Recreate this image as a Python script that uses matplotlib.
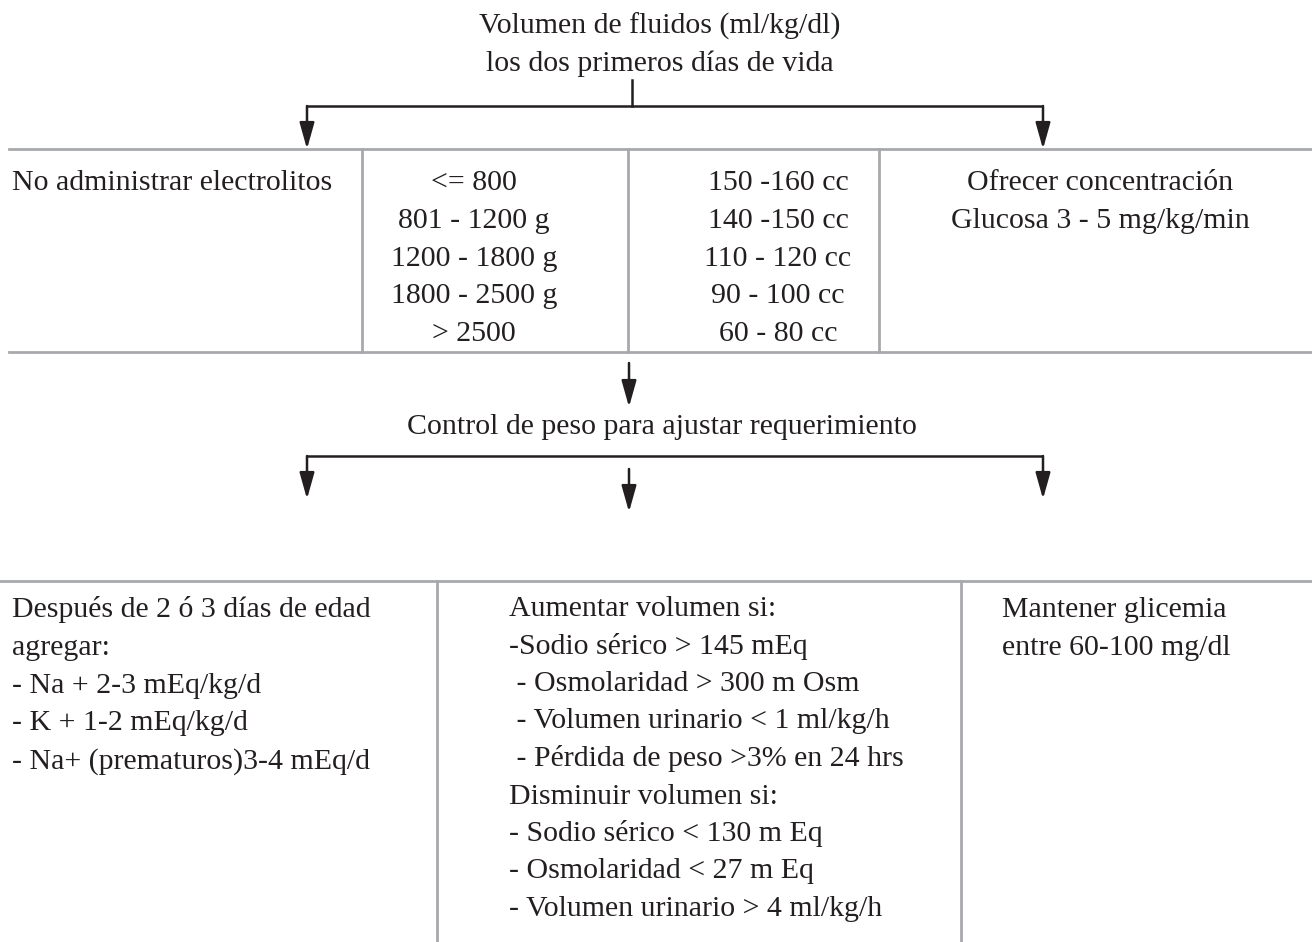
import matplotlib.pyplot as plt
from matplotlib.patches import FancyArrowPatch

##############################################################################
# Texts of the flowchart
##############################################################################

title_lines = ["Volumen de fluidos (ml/kg/dl)", "los dos primeros días de vida"]

no_electrolytes = ["No administrar electrolitos"]
weight_ranges = ["<= 800", "801 - 1200 g", "1200 - 1800 g", "1800 - 2500 g", "> 2500"]
volumes = ["150 -160 cc", "140 -150 cc", "110 - 120 cc", "90 - 100 cc", "60 - 80 cc"]
glucose = ["Ofrecer concentración", "Glucosa 3 - 5 mg/kg/min"]

control_text = "Control de peso para ajustar requerimiento"

after_days = ["Después de 2 ó 3 días de edad",
              "agregar:",
              "- Na + 2-3 mEq/kg/d",
              "- K + 1-2 mEq/kg/d",
              "- Na+ (prematuros)3-4 mEq/d"]
volume_rules = ["Aumentar volumen si:",
                "-Sodio sérico > 145 mEq",
                " - Osmolaridad > 300 m Osm",
                " - Volumen urinario < 1 ml/kg/h",
                " - Pérdida de peso >3% en 24 hrs",
                "Disminuir volumen si:",
                "- Sodio sérico < 130 m Eq",
                "- Osmolaridad < 27 m Eq",
                "- Volumen urinario > 4 ml/kg/h"]
glycemia = ["Mantener glicemia", "entre 60-100 mg/dl"]

##############################################################################
# Figure (pixel coordinates, y downwards)
##############################################################################

plt.rcParams["font.family"] = "serif"
plt.rcParams["font.serif"] = ["Liberation Serif", "DejaVu Serif"]

W, H = 1312, 942
fig = plt.figure(figsize=(W / 100, H / 100), dpi=100)
ax = fig.add_axes([0, 0, 1, 1])
ax.set_xlim(0, W)
ax.set_ylim(H, 0)
ax.axis("off")

ink = "#231f20"
grey = "#a7a9ac"
fs = 21.5
step = 37.8


def lines(x, y0, texts, ha="left", dy=step):
    for i, t in enumerate(texts):
        ax.text(x, y0 + i * dy, t, ha=ha, va="baseline", fontsize=fs, color=ink)


def arrow(x, y0, y1):
    ax.add_patch(FancyArrowPatch((x, y0), (x, y1), arrowstyle="-|>,head_length=1.6,head_width=0.45",
                                 mutation_scale=10, color=ink, lw=1.8,
                                 shrinkA=0, shrinkB=0))


# title and first split
lines(660, 34, title_lines, ha="center", dy=37)
ax.plot([632, 632], [80, 106], color=ink, lw=1.8)
ax.plot([307, 1043], [106, 106], color=ink, lw=1.8, solid_capstyle="butt")
arrow(307, 106, 149)
arrow(1043, 106, 149)

# first table
ax.plot([9, W], [149, 149], color=grey, lw=2)
ax.plot([9, W], [352, 352], color=grey, lw=2)
for x in [362, 628, 879]:
    ax.plot([x, x], [149, 352], color=grey, lw=2)

lines(12, 190, no_electrolytes)
lines(474, 190, weight_ranges, ha="center")
lines(778, 190, volumes, ha="center")
lines(1100, 190, glucose, ha="center")

# control step
arrow(629, 363, 407)
ax.text(662, 434, control_text, ha="center", va="baseline", fontsize=fs, color=ink)
ax.plot([307, 1043], [456, 456], color=ink, lw=1.8, solid_capstyle="butt")
arrow(307, 456, 499)
arrow(629, 469, 512)
arrow(1043, 456, 499)

# second table
ax.plot([0, W], [581, 581], color=grey, lw=2)
ax.plot([437, 437], [581, H], color=grey, lw=2)
ax.plot([961, 961], [581, H], color=grey, lw=2)

lines(12, 617, after_days)
lines(509, 616, volume_rules, dy=37.5)
lines(1002, 617, glycemia)

fig.savefig("out.png", dpi=100, facecolor="white")
